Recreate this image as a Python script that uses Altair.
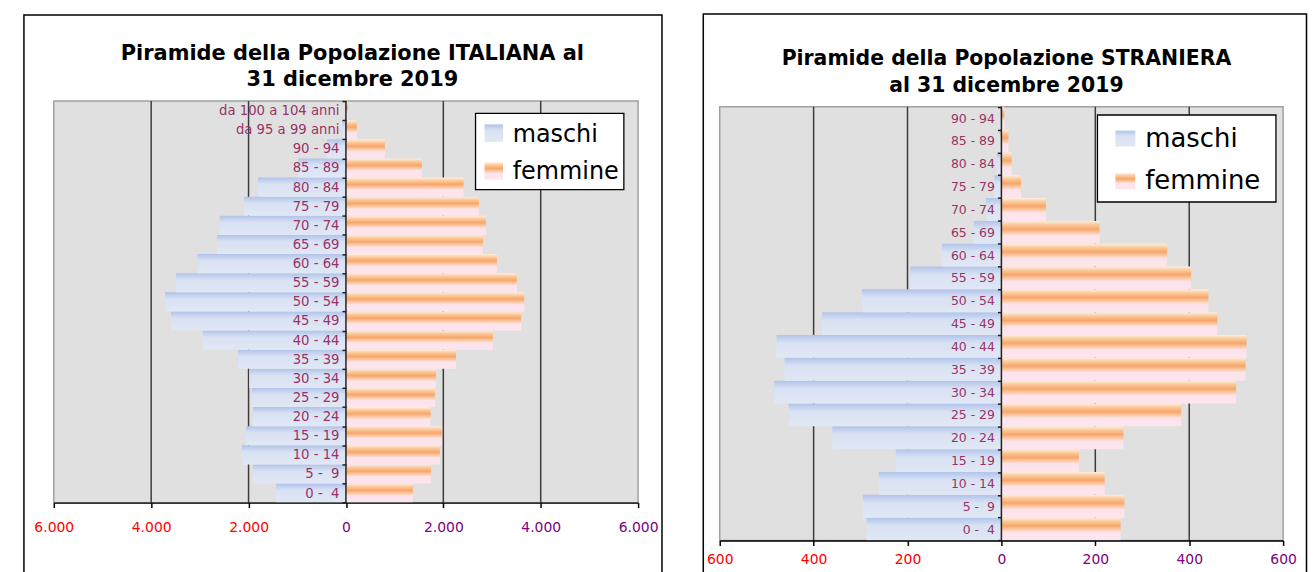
import altair as alt
import pandas as pd

SERIES = ["maschi", "femmine"]

AGES_IT = ["0 - \u00a04", "5 - \u00a09", "10 - 14", "15 - 19", "20 - 24", "25 - 29",
           "30 - 34", "35 - 39", "40 - 44", "45 - 49", "50 - 54", "55 - 59",
           "60 - 64", "65 - 69", "70 - 74", "75 - 79", "80 - 84", "85 - 89",
           "90 - 94", "da 95 a 99 anni", "da 100 a 104 anni"]
MASCHI_IT = [1437, 1910, 2136, 2053, 1905, 1937, 1985, 2218, 2943, 3593, 3717,
             3491, 3046, 2649, 2594, 2095, 1807, 980, 390, 80, 10]
FEMMINE_IT = [1376, 1745, 1930, 1971, 1740, 1828, 1848, 2259, 3018, 3600, 3662,
              3511, 3101, 2813, 2875, 2731, 2417, 1560, 800, 225, 40]

AGES_ST = ["0 - \u00a04", "5 - \u00a09", "10 - 14", "15 - 19", "20 - 24", "25 - 29",
           "30 - 34", "35 - 39", "40 - 44", "45 - 49", "50 - 54", "55 - 59",
           "60 - 64", "65 - 69", "70 - 74", "75 - 79", "80 - 84", "85 - 89",
           "90 - 94"]
MASCHI_ST = [287, 295, 261, 225, 360, 453, 484, 462, 479, 382, 297, 194, 127,
             59, 33, 15, 10, 4, 3]
FEMMINE_ST = [254, 262, 220, 165, 260, 383, 500, 520, 522, 460, 441, 404, 353,
              209, 95, 42, 22, 15, 6]

TICKS_IT = [-6000, -4000, -2000, 0, 2000, 4000, 6000]
TICKS_ST = [-600, -400, -200, 0, 200, 400, 600]

TITLE_IT = ["Piramide della Popolazione ITALIANA al", "31 dicembre 2019"]
TITLE_ST = ["Piramide della Popolazione STRANIERA", "al 31 dicembre 2019"]


def grad(stops):
    return {"gradient": "linear", "x1": 0, "x2": 0, "y1": 0, "y2": 1,
            "stops": [{"offset": o, "color": c} for o, c in stops]}


BLUE = grad([(0, "#b1c3ea"), (0.35, "#d9e2f3"), (1, "#e0e7f5")])
ORANGE = grad([(0, "#feeedc"), (0.18, "#fbc795"), (0.36, "#f7a66c"),
               (0.52, "#fbcaa6"), (0.64, "#fde3ea"), (1, "#fde5ef")])

ONE = pd.DataFrame({"k": [0]})


def panel(ages, m, f, ticks, w, h, gap, label_expr, xlab_pad, ylab_size,
          title, tfont, tsize, tlh, tx, ty, frame, legend):
    n = len(ages)
    df = pd.DataFrame({
        "eta": list(ages) + list(ages),
        "sesso": [SERIES[0]] * n + [SERIES[1]] * n,
        "valore": [-v for v in m] + list(f),
    })
    lim = ticks[-1]
    step = (h - gap) / n
    pad_outer = (h / step - n) / 2
    x = alt.X("valore:Q",
              scale=alt.Scale(domain=[-lim, lim], nice=False),
              axis=alt.Axis(values=ticks, title=None, grid=False, zindex=1,
                            labelExpr=label_expr,
                            labelColor=alt.condition("datum.value < 0",
                                                     alt.value("#ff0000"), alt.value("#800080")),
                            labelFont="DejaVu Sans", labelFontSize=14,
                            labelFlush=False, labelOverlap=False,
                            labelPadding=xlab_pad,
                            domainColor="#000000", domainWidth=1.5,
                            tickColor="#000000", tickWidth=1.5, tickSize=5))
    y = alt.Y("eta:N", sort=list(reversed(ages)),
              scale=alt.Scale(paddingInner=0, paddingOuter=pad_outer, align=1),
              axis=alt.Axis(title=None, orient="left", offset=-w / 2, zindex=1,
                            labelColor="#993366", labelFont="DejaVu Sans",
                            labelFontSize=ylab_size, labelPadding=3,
                            tickBand="extent", tickSize=4, tickColor="#222222",
                            tickWidth=1.5, domain=False, grid=False))
    # chart frame
    fx1, fx2, fy1 = frame
    frm = alt.Chart(ONE).mark_rect(fill="white", fillOpacity=0, stroke="#000000",
                                   strokeWidth=1.5).encode(
        x=alt.value(fx1), x2=alt.value(fx2), y=alt.value(fy1), y2=alt.value(h + 120))
    # plot area
    plot_bg = alt.Chart(ONE).mark_rect(fill="#e0e0e0", stroke="#a0a0a0",
                                       strokeWidth=1.5).encode(
        x=alt.value(0), x2=alt.value(w), y=alt.value(gap), y2=alt.value(h))
    grid_df = pd.DataFrame({"valore": [t for t in ticks if abs(t) != lim and t != 0]})
    grid = alt.Chart(grid_df).mark_rule(color="#3c3c3c", strokeWidth=1.5).encode(
        x=x, y=alt.value(gap), y2=alt.value(h))
    bars = alt.Chart(df).mark_bar(strokeWidth=0).encode(
        x=x, y=y,
        fill=alt.condition(f"datum.sesso == '{SERIES[0]}'",
                           alt.value(BLUE), alt.value(ORANGE)),
    )
    zero = alt.Chart(pd.DataFrame({"valore": [0]})).mark_rule(
        color="#222222", strokeWidth=1.5).encode(x=x, y=alt.value(gap), y2=alt.value(h))
    bx1, bx2, by1, by2, sx1, sx2, sy, sh, tx0, tb, fs = legend
    box = alt.Chart(ONE).mark_rect(fill="white", stroke="#000000", strokeWidth=1.3).encode(
        x=alt.value(bx1), x2=alt.value(bx2), y=alt.value(by1), y2=alt.value(by2))
    layers = [frm, plot_bg, grid, bars, zero, box]
    fills = [BLUE, ORANGE]
    for i, s in enumerate(SERIES):
        layers.append(alt.Chart(ONE).mark_rect(fill=fills[i], strokeWidth=0).encode(
            x=alt.value(sx1), x2=alt.value(sx2), y=alt.value(sy[i]), y2=alt.value(sy[i] + sh)))
        layers.append(alt.Chart(ONE).mark_text(align="left", baseline="alphabetic",
                                               font="DejaVu Sans", fontSize=fs,
                                               color="#000000").encode(
            x=alt.value(tx0), y=alt.value(tb[i]), text=alt.value(s)))
    layers.append(alt.Chart(ONE).mark_text(align="center", baseline="top",
                                           font=tfont, fontSize=tsize, lineHeight=tlh,
                                           fontWeight="bold", color="#000000").encode(
        x=alt.value(tx), y=alt.value(ty), text=alt.value(title)))
    return alt.layer(*layers).properties(
        width=w, height=h,
        view=alt.ViewBackground(stroke="transparent"))


left = panel(AGES_IT, MASCHI_IT, FEMMINE_IT, TICKS_IT, 587, 403.4, 0,
             "replace(format(abs(datum.value), ','), ',', '.')", 13, 13.3,
             TITLE_IT, "DejaVu Sans", 21, 26, 300, -58,
             (-30, 611, -86.6),
             (423.7, 572.7, 12.4, 89, 432.7, 451.3, [23.4, 61.4], 17.5, 461, [41.4, 78], 24))

right = panel(AGES_ST, MASCHI_ST, FEMMINE_ST, TICKS_ST, 566, 441.4, 5.7,
              "format(abs(datum.value), 'd')", 7, 12.5,
              TITLE_ST, "DejaVu Sans", 20.5, 26.7, 288, -52,
              (-16.5, 589.5, -87.6),
              (379.5, 558.8, 14, 101.4, 397.5, 417.5, [29.7, 72.4], 16, 427.5, [45.7, 88], 26))

chart = alt.hconcat(left, right, spacing=38).properties(
    padding={"left": 14, "top": 3, "right": 0, "bottom": 0})

chart.save("out.html", embed_options={"renderer": "svg", "actions": False})
